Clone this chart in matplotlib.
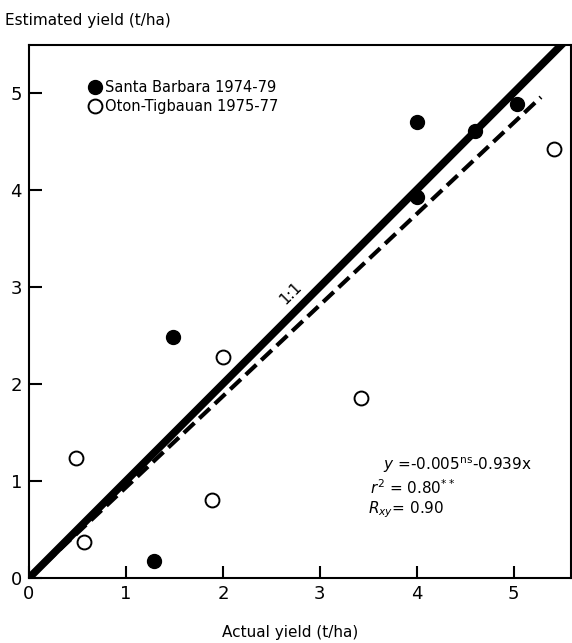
import matplotlib
matplotlib.use("Agg")
import matplotlib.pyplot as plt
import numpy as np

# Santa Barbara 1974-79 (filled)
sb_actual = [1.29, 1.49, 4.0, 4.0, 4.6, 5.03]
sb_est = [0.18, 2.48, 4.7, 3.92, 4.6, 4.88]

# Oton-Tigbauan 1975-77 (open)
ot_actual = [0.48, 0.57, 1.89, 2.0, 3.42, 5.41]
ot_est = [1.24, 0.37, 0.8, 2.28, 1.85, 4.42]

# regression y = -0.005 + 0.939x
intercept = -0.005
slope = 0.939
fit_x = [0.0, 5.28]
one_to_one = [0.0, 5.6]

x_ticks = [0, 1, 2, 3, 4, 5]
y_ticks = [0, 1, 2, 3, 4, 5]
tick_labels = ["0", "1", "2", "3", "4", "5"]

fig = plt.figure(figsize=(5.72, 6.43), dpi=100)
ax = fig.add_axes([29 / 572, 1 - 578 / 643, 542 / 572, 533 / 643])

ax.plot(one_to_one, one_to_one, color="black", lw=5.5, solid_capstyle="butt",
        zorder=3)
fx = np.array(fit_x)
ax.plot(fx, intercept + slope * fx, color="black", lw=3, dashes=(3.5, 1.6),
        zorder=3)

ax.plot(sb_actual, sb_est, "o", color="black", ms=10, zorder=4,
        label="Santa Barbara 1974-79")
ax.plot(ot_actual, ot_est, "o", mfc="white", mec="black", mew=1.4, ms=10,
        zorder=4, label="Oton-Tigbauan 1975-77")

ax.set_xlim(0, 5.59)
ax.set_ylim(0, 5.49)
ax.set_xticks(x_ticks)
ax.set_yticks(y_ticks)
ax.set_xticklabels(tick_labels)
ax.set_yticklabels(tick_labels)
ax.tick_params(direction="in", length=9, width=1.5, labelsize=13, pad=5)
for s in ax.spines.values():
    s.set_linewidth(1.5)

ax.text(2.7, 2.93, "1:1", rotation=45, ha="center", va="center", fontsize=11)

ax.text(3.65, 1.16, r"$y$ =-0.005$^{\rm ns}$-0.939x", fontsize=11, va="center")
ax.text(3.52, 0.93, r"$r^2$ = 0.80$^{**}$", fontsize=11, va="center")
ax.text(3.5, 0.7, r"$R_{xy}$= 0.90", fontsize=11, va="center")

ax.legend(loc="upper left", bbox_to_anchor=(0.1, 0.945), frameon=False,
          handlelength=0.8, handletextpad=0.3, labelspacing=0.25, fontsize=10.5,
          borderaxespad=0)

fig.text(5 / 572, 1 - 20 / 643, "Estimated yield (t/ha)", fontsize=11,
         va="center", ha="left")
fig.text(290 / 572, 1 - 632 / 643, "Actual yield (t/ha)", fontsize=11,
         va="center", ha="center")

fig.savefig("out.png", dpi=100)
